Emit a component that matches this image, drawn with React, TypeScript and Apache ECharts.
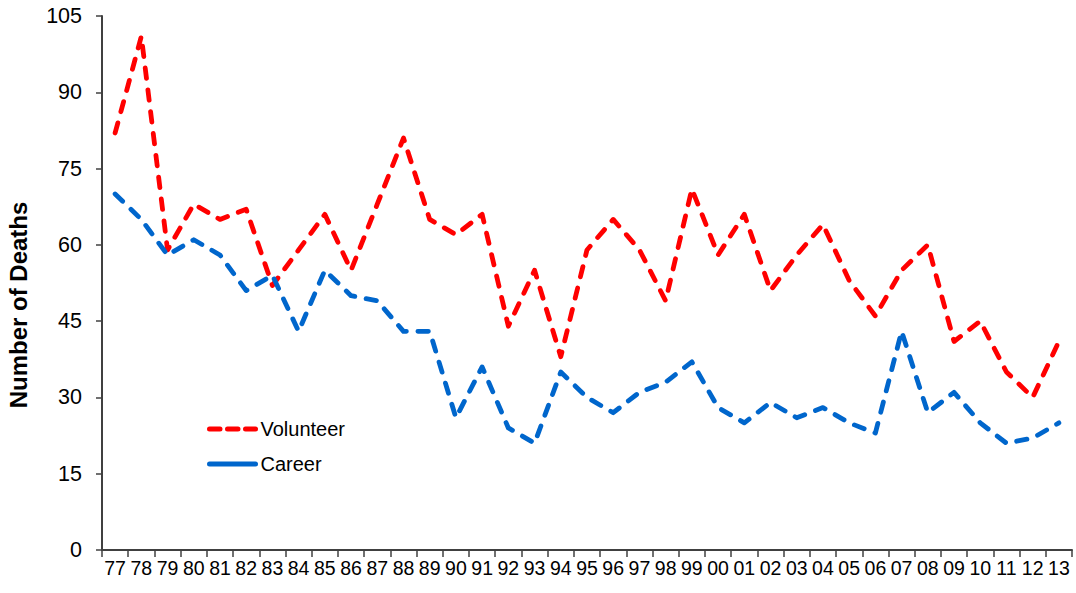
import React, { useEffect, useRef } from "react";
import * as echarts from "echarts";

const years = ["77","78","79","80","81","82","83","84","85","86","87","88","89","90","91","92","93","94","95","96","97","98","99","00","01","02","03","04","05","06","07","08","09","10","11","12","13"];
const volunteer = [82,101,59,68,65,67,52,59,66,55,68,81,65,62,66,44,55,38,59,65,59,49,71,58,66,51,58,64,53,46,55,60,41,45,35,30,41];
const career = [70,65,58,61,58,51,54,43,55,50,49,43,43,26,36,24,21,35,30,27,31,33,37,28,25,29,26,28,25,23,43,27,31,25,21,22,25];
const yTicks = [0, 15, 30, 45, 60, 75, 90, 105];
const yTitle = "Number of Deaths";

export default function App() {
  const ref = useRef<HTMLDivElement>(null);
  useEffect(() => {
    if (!ref.current) return;
    const chart = echarts.init(ref.current, null, { renderer: "svg" });
    const font = "'Liberation Sans', Arial, sans-serif";
    const dash = [10.5, 11.5];
    chart.setOption({
      animation: false,
      textStyle: { fontFamily: font },
      grid: { left: 102, right: 4, top: 16, bottom: 43, containLabel: false },
      legend: {
        orient: "vertical",
        left: 207,
        top: 417,
        padding: 0,
        itemWidth: 46,
        itemHeight: 24,
        itemGap: 11,
        itemStyle: { opacity: 0 },
        textStyle: { fontSize: 20, lineHeight: 24, color: "#000", fontFamily: font },
        data: [
          { name: "Volunteer", lineStyle: { type: [10.5, 7.5], width: 5, cap: "round" } },
          { name: "Career", lineStyle: { type: "solid", width: 5, cap: "round" } },
        ],
      },
      graphic: [
        {
          type: "text",
          x: 18,
          y: 305,
          rotation: Math.PI / 2,
          style: {
            text: yTitle,
            font: `bold 24px ${font}`,
            fill: "#000",
            textAlign: "center",
            textVerticalAlign: "middle",
          },
        },
      ],
      xAxis: {
        type: "category",
        data: years,
        boundaryGap: true,
        axisLine: { lineStyle: { color: "#404040", width: 2 } },
        axisTick: { show: true, length: 7, alignWithLabel: false, lineStyle: { color: "#404040", width: 1.5 } },
        axisLabel: { fontSize: 19.5, color: "#000", margin: 8, interval: 0, fontFamily: font },
      },
      yAxis: {
        type: "value",
        min: 0,
        max: 105,
        interval: 15,
        axisLine: { show: true, lineStyle: { color: "#404040", width: 2 } },
        axisTick: { show: true, length: 6, lineStyle: { color: "#404040", width: 1.5 } },
        axisLabel: {
          fontSize: 21.5, color: "#000", margin: 20, fontFamily: font,
          formatter: (v: number) => (yTicks.includes(v) ? String(v) : ""),
        },
        splitLine: { show: false },
      },
      series: [
        {
          name: "Volunteer",
          type: "line",
          data: volunteer,
          symbol: "none",
          itemStyle: { color: "#FF0000" },
          lineStyle: { color: "#FF0000", width: 4.8, type: dash, cap: "round", join: "round" },
        },
        {
          name: "Career",
          type: "line",
          data: career,
          symbol: "none",
          itemStyle: { color: "#0066CC" },
          lineStyle: { color: "#0066CC", width: 4.8, type: dash, cap: "round", join: "round" },
        },
      ],
    });
    return () => chart.dispose();
  }, []);
  return <div ref={ref} style={{ position: "absolute", left: 0, top: 0, width: 1076, height: 593 }} />;
}
